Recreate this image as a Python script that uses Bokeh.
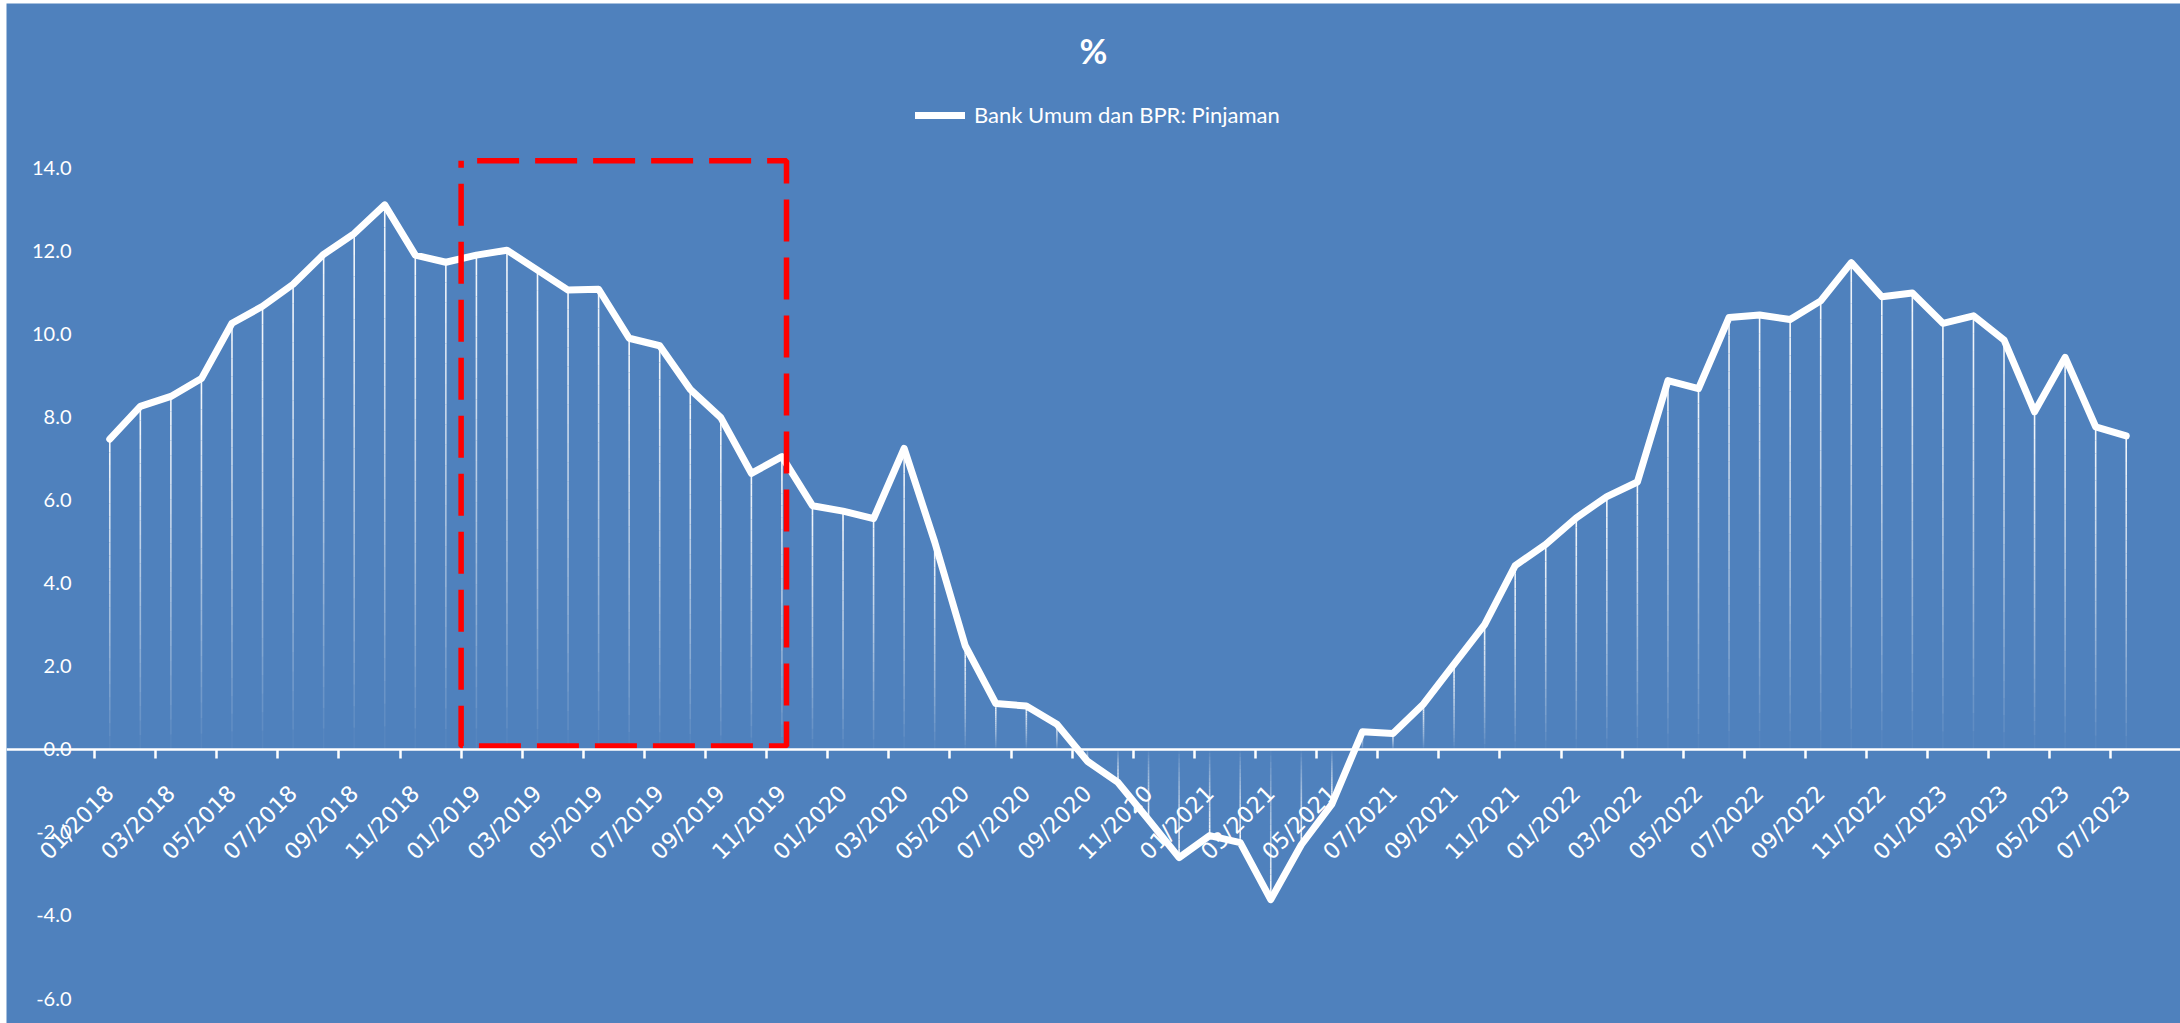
import numpy as np
from math import pi

from bokeh.plotting import figure
from bokeh.models import (Range1d, LinearAxis, FixedTicker, NumeralTickFormatter,
                          ColumnDataSource, Label)
from bokeh.embed import file_html
from bokeh.resources import INLINE

# Monthly year-on-year loan growth, Jan 2018 - Jul 2023 (%)
months = [f"{m:02d}/{y}" for y in range(2018, 2024) for m in range(1, 13)][:67]
loan_growth = [
    7.46, 8.25, 8.49, 8.92, 10.25, 10.66, 11.19, 11.91, 12.41, 13.10, 11.89, 11.72,   # 2018
    11.89, 12.01, 11.53, 11.05, 11.07, 9.89, 9.71, 8.66, 7.98, 6.64, 7.04, 5.86,      # 2019
    5.73, 5.55, 7.24, 4.99, 2.49, 1.10, 1.04, 0.60, -0.29, -0.80, -1.70, -2.61,       # 2020
    -2.08, -2.25, -3.62, -2.30, -1.32, 0.42, 0.38, 1.09, 2.05, 3.00, 4.42, 4.93,      # 2021
    5.57, 6.08, 6.43, 8.87, 8.68, 10.39, 10.45, 10.34, 10.79, 11.71, 10.89, 10.98,    # 2022
    10.25, 10.43, 9.85, 8.12, 9.43, 7.76, 7.54,                                       # 2023
]
y_ticks = [-6, -4, -2, 0, 2, 4, 6, 8, 10, 12, 14]
label_every = 2
chart_title = "%"
series_name = "Bank Umum dan BPR: Pinjaman"
highlight_months = ("01/2019", "11/2019")

BG = "#4F81BD"
n = len(months)
xc = np.arange(n) + 0.5          # category centres on a numeric axis
vals = np.array(loan_growth)

# canvas geometry (px); the frame fills the whole canvas and the ranges are
# padded so the plotting area proper sits at the given pixel box
W, H = 2174, 1020
AREA_L, AREA_R, AREA_T, AREA_B = 88, 2135, 164, 995
y_lo, y_hi = min(y_ticks), max(y_ticks)
px_x = (AREA_R - AREA_L) / n
px_y = (AREA_B - AREA_T) / (y_hi - y_lo)
x_range = Range1d(-AREA_L / px_x, n + (W - AREA_R) / px_x)
y_range = Range1d(y_lo - (H - AREA_B) / px_y, y_hi + AREA_T / px_y)

p = figure(width=W, height=H, margin=(3, 0, 0, 6),
           x_range=x_range, y_range=y_range,
           output_backend="svg", toolbar_location=None,
           background_fill_color=BG, border_fill_color=BG,
           min_border=0, x_axis_type=None, y_axis_type=None)
p.outline_line_color = None
p.grid.visible = False
p.title.visible = False

# y axis: labels only, sitting left of the first category
y_axis = LinearAxis(fixed_location=0,
                    ticker=FixedTicker(ticks=y_ticks, minor_ticks=[]),
                    formatter=NumeralTickFormatter(format="0.0"),
                    axis_line_color=None, major_tick_line_color=None,
                    minor_tick_line_color=None, major_tick_out=0,
                    major_label_standoff=23,
                    major_label_text_color="white",
                    major_label_text_font="Lato",
                    major_label_text_font_size="20px")
p.add_layout(y_axis, "left")

# x axis crossing at zero: labels at category centres, tick marks on boundaries
label_idx = list(range(0, n, label_every))
x_axis = LinearAxis(fixed_location=0,
                    ticker=FixedTicker(ticks=[float(xc[i]) for i in label_idx],
                                       minor_ticks=[float(i) for i in label_idx]),
                    major_label_overrides={float(xc[i]): months[i] for i in label_idx},
                    axis_line_color="white", axis_line_width=2.5,
                    major_tick_line_color=None, major_tick_out=0, major_tick_in=0,
                    minor_tick_line_color="white", minor_tick_line_width=2.5,
                    minor_tick_out=9, minor_tick_in=0,
                    major_label_standoff=31,
                    major_label_orientation=pi / 4,
                    major_label_text_color="white",
                    major_label_text_font="DejaVu Sans",
                    major_label_text_font_size="22.5px")
p.add_layout(x_axis, "below")

# drop lines from each point to zero, fading out towards the axis
pieces = 24
x0s, y0s, y1s, alphas = [], [], [], []
for x, v in zip(xc, vals):
    for k in range(pieces):
        x0s.append(x)
        y0s.append(v * (1 - k / pieces))
        y1s.append(v * (1 - (k + 1) / pieces))
        alphas.append(0.95 * (1 - (k + 0.5) / pieces) ** 0.8)
drops = ColumnDataSource(dict(x0=x0s, y0=y0s, x1=x0s, y1=y1s, a=alphas))
p.segment("x0", "y0", "x1", "y1", source=drops, line_color="white",
          line_alpha="a", line_width=1.6)

# the series line
p.line(xc, vals, line_color="white", line_width=7, line_join="round",
       line_cap="round", legend_label=series_name)

# highlighted period
i0, i1 = months.index(highlight_months[0]), months.index(highlight_months[1])
p.quad(left=[i0], right=[i1 + 0.65], bottom=[0.08], top=[14.16],
       fill_alpha=0, line_color="#FF0000", line_width=5.5,
       line_dash="42 16", line_dash_offset=42)

# legend: location is the bottom-left corner, measured from the canvas bottom
leg = p.legend[0]
leg.location = (909, H - 125)
leg.orientation = "horizontal"
leg.padding = 0
leg.margin = 0
leg.spacing = 0
leg.border_line_color = None
leg.background_fill_alpha = 0
leg.glyph_width = 50
leg.glyph_height = 24
leg.label_height = 24
leg.label_standoff = 9
leg.label_text_color = "white"
leg.label_text_font = "Lato"
leg.label_text_font_size = "22px"

p.add_layout(Label(x=1087, y=H - 47, x_units="screen", y_units="screen",
                   text=chart_title, text_align="center", text_baseline="middle",
                   text_color="white", text_font="Lato", text_font_style="bold",
                   text_font_size="34px"))

open("out.html", "w").write(file_html(p, INLINE))
